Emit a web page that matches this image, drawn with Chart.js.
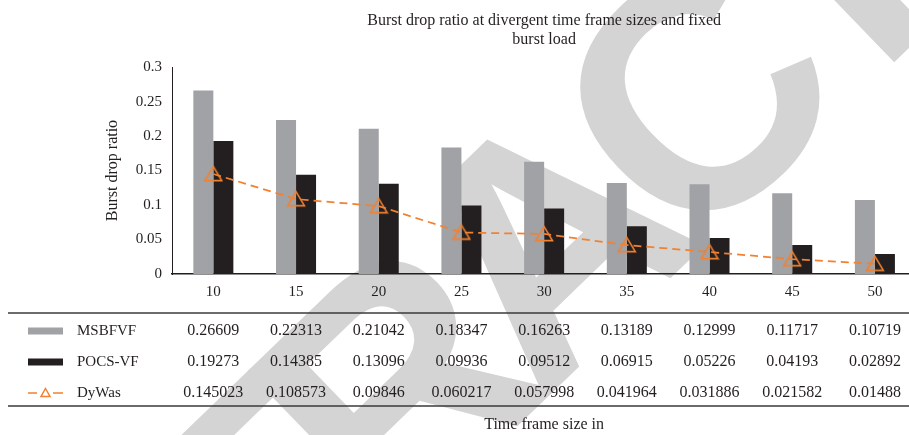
<!DOCTYPE html>
<html>
<head>
<meta charset="utf-8">
<script src="https://cdn.jsdelivr.net/npm/chart.js@4.4.1/dist/chart.umd.min.js"></script>
<style>
  html, body { margin: 0; padding: 0; background: #fff; overflow: hidden; }
  #wrap { position: relative; width: 927px; height: 435px; }
</style>
</head>
<body>
<div id="wrap"><canvas id="c"></canvas></div>
<script>
// ---- data ----
const categories = ['10', '15', '20', '25', '30', '35', '40', '45', '50'];
const msbfvf = [0.26609, 0.22313, 0.21042, 0.18347, 0.16263, 0.13189, 0.12999, 0.11717, 0.10719];
const pocsVf = [0.19273, 0.14385, 0.13096, 0.09936, 0.09512, 0.06915, 0.05226, 0.04193, 0.02892];
const dyWas = [0.145023, 0.108573, 0.09846, 0.060217, 0.057998, 0.041964, 0.031886, 0.021582, 0.01488];
const yTickLabels = ['0', '0.05', '0.1', '0.15', '0.2', '0.25', '0.3'];
const seriesNames = ['MSBFVF', 'POCS-VF', 'DyWas'];
const titleLines = ['Burst drop ratio at divergent time frame sizes and fixed', 'burst load'];
const yTitle = 'Burst drop ratio';
const xTitle = 'Time frame size in';
const stampText = 'RETRACTED';

// ---- styling ----
const INK = '#231f20';
const GREY = '#a1a2a5';
const ORANGE = '#f28130';
const STAMP = '#d4d4d4';
const SERIF = '"Liberation Serif", "DejaVu Serif", serif';

// hollow triangle marker, centred on its bounding box
function triangleMarker(w, h, lw, color) {
  const c = document.createElement('canvas');
  c.width = Math.ceil(w + 2 * lw);
  c.height = Math.ceil(h + 2 * lw);
  const g = c.getContext('2d');
  g.strokeStyle = color;
  g.lineWidth = lw;
  g.beginPath();
  g.moveTo(c.width / 2, lw);
  g.lineTo(c.width - lw, lw + h);
  g.lineTo(lw, lw + h);
  g.closePath();
  g.stroke();
  return c;
}
const marker = triangleMarker(16, 14, 1.6, ORANGE);

// large diagonal stamp behind the chart, laid out letter by letter
// with tight tracking and anchored on the centre of its "C"
const stampPlugin = {
  id: 'stamp',
  beforeDraw(chart) {
    const ctx = chart.ctx;
    const size = 330, track = -30, angle = 44;
    const chars = [...stampText];
    ctx.save();
    ctx.font = 'bold ' + size + 'px "Liberation Sans", Arial, sans-serif';
    const widths = chars.map(ch => ctx.measureText(ch).width);
    let cx = 0;
    for (let i = 0; i < 5; i++) cx += widths[i] + track;
    cx += widths[5] / 2;
    ctx.translate(691, 91);
    ctx.rotate(-angle * Math.PI / 180);
    ctx.fillStyle = STAMP;
    ctx.textBaseline = 'alphabetic';
    ctx.textAlign = 'left';
    let pos = -cx;
    chars.forEach((ch, i) => {
      ctx.fillText(ch, pos, 0.365 * size);
      pos += widths[i] + track;
    });
    ctx.restore();
  }
};

// data table under the plot, one column per category
const tablePlugin = {
  id: 'dataTable',
  afterDraw(chart) {
    const { ctx } = chart;
    const x = chart.scales.x;
    const W = chart.width;
    const rows = [msbfvf, pocsVf, dyWas];
    const rowY = [331, 362, 393];
    ctx.save();
    ctx.strokeStyle = '#3a3a3a';
    ctx.lineWidth = 1.5;
    [313, 406].forEach(y => {
      ctx.beginPath();
      ctx.moveTo(8, y);
      ctx.lineTo(W, y);
      ctx.stroke();
    });
    ctx.fillStyle = INK;
    ctx.textBaseline = 'middle';
    rows.forEach((vals, r) => {
      const y = rowY[r];
      ctx.font = '15px ' + SERIF;
      ctx.textAlign = 'left';
      ctx.fillText(seriesNames[r], 77, y);
      ctx.font = '16px ' + SERIF;
      ctx.textAlign = 'center';
      vals.forEach((v, i) => ctx.fillText(String(v), x.getPixelForValue(i), y));
    });
    // row keys
    ctx.fillStyle = GREY;
    ctx.fillRect(28, rowY[0] - 3.5, 35, 7);
    ctx.fillStyle = INK;
    ctx.fillRect(28, rowY[1] - 3.5, 35, 7);
    const ky = rowY[2];
    ctx.strokeStyle = ORANGE;
    ctx.lineWidth = 1.5;
    ctx.beginPath();
    ctx.moveTo(28, ky); ctx.lineTo(37, ky);
    ctx.moveTo(53, ky); ctx.lineTo(63, ky);
    ctx.stroke();
    ctx.beginPath();
    ctx.moveTo(45.5, ky - 4.5);
    ctx.lineTo(50, ky + 3.5);
    ctx.lineTo(41, ky + 3.5);
    ctx.closePath();
    ctx.stroke();
    ctx.restore();
  }
};

new Chart(document.getElementById('c'), {
  type: 'bar',
  data: {
    labels: categories,
    datasets: [
      { label: seriesNames[0], data: msbfvf, backgroundColor: GREY, order: 2,
        categoryPercentage: 0.484, barPercentage: 1 },
      { label: seriesNames[1], data: pocsVf, backgroundColor: INK, order: 2,
        categoryPercentage: 0.484, barPercentage: 1 },
      { type: 'line', label: seriesNames[2], data: dyWas, order: 0,
        borderColor: ORANGE, borderWidth: 1.75, borderDash: [8, 5],
        pointStyle: marker, pointRadius: 9, pointHoverRadius: 9,
        fill: false, tension: 0 }
    ]
  },
  options: {
    responsive: true,
    maintainAspectRatio: false,
    animation: false,
    layout: { padding: { left: 0, right: 1, top: 0, bottom: 0 } },
    plugins: {
      legend: { display: false },
      tooltip: { enabled: false },
      title: {
        display: true, text: titleLines, color: INK, fullSize: false,
        font: { family: SERIF, size: 16, weight: 'normal', lineHeight: 1.19 },
        padding: { top: 11, bottom: 18 }
      }
    },
    scales: {
      x: {
        grid: { display: false, drawTicks: false },
        border: { display: true, color: INK, width: 1.5 },
        ticks: { color: INK, font: { family: SERIF, size: 15 }, padding: 9 },
        title: { display: true, text: xTitle, color: INK,
                 font: { family: SERIF, size: 16 }, padding: { top: 0, bottom: 1 } },
        afterFit(s) { s.height = 161; }
      },
      y: {
        min: 0, max: 0.3,
        grid: { display: false, drawTicks: false },
        border: { display: true, color: INK, width: 1 },
        ticks: { stepSize: 0.05, color: INK, font: { family: SERIF, size: 15 }, padding: 10,
                 callback: (v, i) => yTickLabels[i] },
        title: { display: true, text: yTitle, color: INK,
                 font: { family: SERIF, size: 16 }, padding: { top: 103, bottom: 0 } },
        afterFit(s) { s.width = 172; }
      }
    }
  },
  plugins: [stampPlugin, tablePlugin]
});
</script>
</body>
</html>
